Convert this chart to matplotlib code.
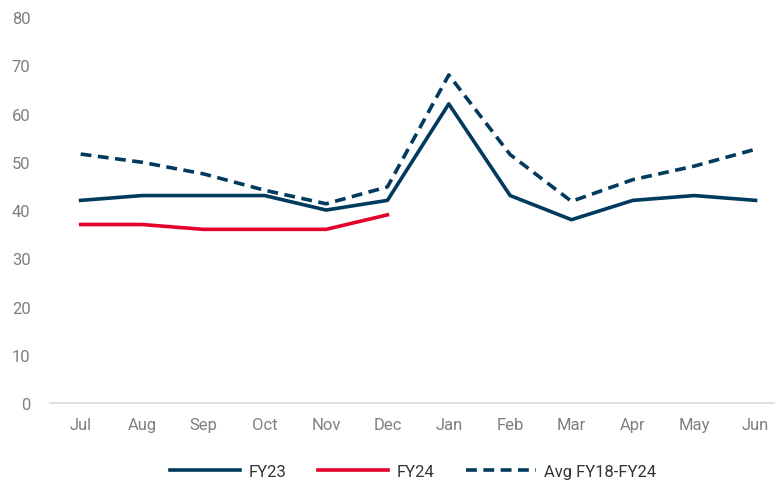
import matplotlib
matplotlib.use("Agg")
import matplotlib.pyplot as plt

months = ["Jul", "Aug", "Sep", "Oct", "Nov", "Dec", "Jan", "Feb", "Mar", "Apr", "May", "Jun"]
fy23 = [42, 43, 43, 43, 40, 42, 62, 43, 38, 42, 43, 42]
fy24 = [37, 37, 36, 36, 36, 39]
avg_fy18_fy24 = [51.6, 49.9, 47.5, 44.1, 41.3, 44.8, 68.0, 51.5, 41.8, 46.3, 49.1, 52.6]

navy = "#003A5D"
red = "#E4002B"
grey = "#7F7F7F"

plt.rcParams["font.family"] = ["Roboto", "DejaVu Sans"]

fig = plt.figure(figsize=(7.75, 4.81), dpi=100)
ax = fig.add_axes([0.0645, 0.160, 0.95, 0.8025])

x = list(range(len(months)))
ax.plot(x, fy23, color=navy, lw=2.6, label="FY23")
ax.plot(x[:len(fy24)], fy24, color=red, lw=2.6, label="FY24")
ax.plot(x, avg_fy18_fy24, color=navy, lw=2.6, ls=(0, (3, 1.8)), label="Avg FY18-FY24")

ax.set_xlim(-0.5, 11.5)
ax.set_ylim(0, 80)
ax.set_yticks(range(0, 81, 10))
ax.set_xticks(x)
ax.set_xticklabels(months)

for s in ["top", "right", "left"]:
    ax.spines[s].set_visible(False)
ax.spines["bottom"].set_color("#D9D9D9")
ax.spines["bottom"].set_linewidth(1.2)
ax.tick_params(axis="both", length=0, labelsize=12, colors=grey, labelcolor=grey)
ax.tick_params(axis="x", pad=10)
ax.tick_params(axis="y", pad=14)

leg = ax.legend(loc="upper center", bbox_to_anchor=(0.493, -0.118), ncol=3, frameon=False,
                fontsize=12, handlelength=4.2, columnspacing=1.9, handletextpad=0.5)
for t in leg.get_texts():
    t.set_color("#333333")

fig.savefig("out.png", dpi=100)
